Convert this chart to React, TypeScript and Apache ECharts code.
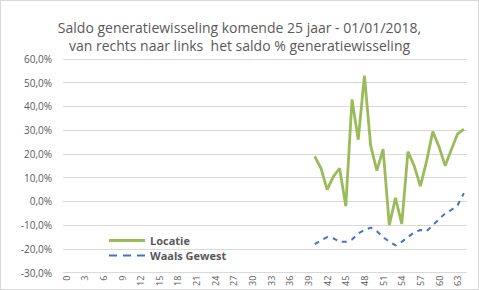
import React, { useEffect, useRef } from "react";
import * as echarts from "echarts";

const categories: string[] = Array.from({ length: 65 }, (_, i) => String(i));

const locatieValues: (number | null)[] = [
  ...Array(40).fill(null),
  19, 14, 5, 10.5, 14, -2, 43, 26, 53, 23.5, 13, 22, -10, 1.5, -9.5, 21, 15, 6.5, 17, 29.5, 23, 15, 22, 28.5, 30.5,
];

const waalsValues: (number | null)[] = [
  ...Array(40).fill(null),
  -18, -16.5, -15, -15.5, -17, -17, -16, -13.5, -12, -11, -12.5, -15, -17, -18.5, -17, -15, -13, -12, -12.5, -10, -7.5, -5, -3.5, -1.5, 3.5,
];

const titleLines = [
  "Saldo generatiewisseling komende 25 jaar - 01/01/2018,",
  "van rechts naar links  het saldo % generatiewisseling",
];

const dashIcon = "path://M0,0.5h8v2h-8z M14,0.5h8v2h-8z M28,0.5h8v2h-8z";

export default function App() {
  const ref = useRef<HTMLDivElement>(null);
  useEffect(() => {
    if (!ref.current) return;
    const chart = echarts.init(ref.current, null, { renderer: "svg" });
    chart.setOption({
      animation: false,
      backgroundColor: "#ffffff",
      title: {
        text: titleLines.join("\n"),
        left: "center",
        top: 12,
        textStyle: {
          fontFamily: "Open Sans",
          fontSize: 14,
          fontWeight: "normal",
          color: "#595959",
          lineHeight: 18,
        },
      },
      legend: {
        orient: "vertical",
        left: 103,
        top: 229,
        itemWidth: 36,
        itemHeight: 3,
        itemGap: 4,
        textStyle: {
          fontFamily: "Open Sans",
          fontSize: 11,
          fontWeight: "bold",
          color: "#595959",
        },
        data: [
          { name: "Locatie", icon: "rect" },
          { name: "Waals Gewest", icon: dashIcon },
        ],
      },
      grid: { left: 62, right: 11, top: 58, bottom: 16, containLabel: false },
      xAxis: {
        type: "category",
        data: categories,
        boundaryGap: true,
        axisLine: { onZero: true, lineStyle: { color: "#d9d9d9" } },
        axisTick: { show: false },
        axisLabel: {
          interval: 2,
          rotate: 90,
          fontFamily: "Open Sans",
          fontSize: 9,
          color: "#595959",
          margin: 3,
        },
      },
      yAxis: {
        type: "value",
        min: -30,
        max: 60,
        interval: 10,
        axisLine: { show: false },
        axisTick: { show: false },
        splitLine: { lineStyle: { color: "#d9d9d9", width: 1 } },
        axisLabel: {
          formatter: (v: number) => v.toFixed(1).replace(".", ",") + "%",
          fontFamily: "Open Sans",
          fontSize: 10,
          color: "#595959",
          margin: 11,
        },
      },
      series: [
        {
          name: "Locatie",
          type: "line",
          data: locatieValues,
          showSymbol: false,
          symbol: "none",
          connectNulls: false,
          itemStyle: { color: "#9bbb59" },
          lineStyle: { color: "#9bbb59", width: 2.8 },
        },
        {
          name: "Waals Gewest",
          type: "line",
          data: waalsValues,
          showSymbol: false,
          symbol: "none",
          itemStyle: { color: "#4472c4" },
          lineStyle: { color: "#4472c4", width: 2, type: [5, 5] },
        },
      ],
    });
    return () => chart.dispose();
  }, []);
  return (
    <div
      ref={ref}
      style={{
        width: 479,
        height: 290,
        position: "absolute",
        left: 0,
        top: 0,
        boxSizing: "border-box",
        border: "1px solid #d9d9d9",
      }}
    />
  );
}
